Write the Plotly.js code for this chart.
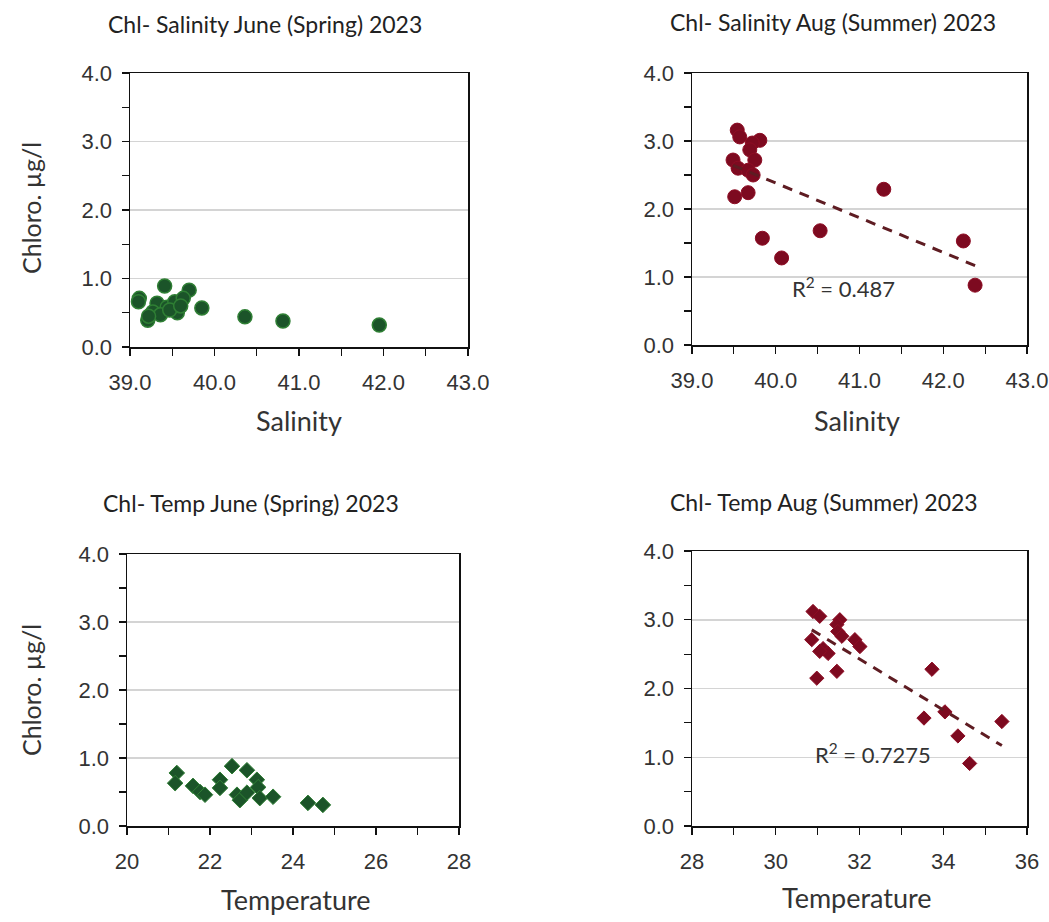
<!DOCTYPE html>
<html>
<head>
<meta charset="utf-8">
<script src="https://cdn.plot.ly/plotly-3.0.1.min.js"></script>
<style>
html,body{margin:0;padding:0;background:#fff;}
#chart{width:1049px;height:922px;}
</style>
</head>
<body>
<div id="chart"></div>
<script>
// ---- Data ----
const salJune = [39.11, 39.10, 39.41, 39.70, 39.85, 40.36, 40.81, 41.95, 39.21, 39.32, 39.27, 39.44, 39.56, 39.53, 39.63, 39.36, 39.47, 39.22, 39.60];
const chlSalJune = [0.71, 0.66, 0.89, 0.83, 0.57, 0.44, 0.38, 0.32, 0.39, 0.64, 0.51, 0.58, 0.50, 0.66, 0.71, 0.47, 0.54, 0.45, 0.60];

const salAug = [39.54, 39.57, 39.81, 39.72, 39.69, 39.49, 39.75, 39.55, 39.67, 39.73, 39.51, 39.67, 39.84, 40.07, 40.53, 41.29, 42.24, 42.38];
const chlSalAug = [3.16, 3.06, 3.01, 2.97, 2.87, 2.72, 2.72, 2.60, 2.57, 2.50, 2.18, 2.24, 1.57, 1.28, 1.68, 2.29, 1.53, 0.88];

const tempJune = [21.20, 21.16, 21.59, 21.76, 21.88, 22.24, 22.24, 22.53, 22.89, 23.13, 23.16, 22.65, 22.72, 22.89, 23.20, 23.52, 24.36, 24.72];
const chlTempJune = [0.78, 0.63, 0.59, 0.50, 0.46, 0.68, 0.56, 0.88, 0.82, 0.68, 0.57, 0.46, 0.38, 0.49, 0.41, 0.43, 0.34, 0.31];

const tempAug = [30.89, 31.05, 30.86, 31.13, 31.25, 31.05, 31.53, 31.46, 31.48, 31.58, 31.89, 32.01, 30.98, 31.46, 33.73, 33.54, 34.04, 34.35, 35.40, 34.63];
const chlTempAug = [3.12, 3.05, 2.71, 2.58, 2.51, 2.54, 3.00, 2.93, 2.83, 2.76, 2.71, 2.61, 2.15, 2.25, 2.28, 1.57, 1.66, 1.31, 1.52, 0.91];

const titles = ["Chl- Salinity June (Spring) 2023", "Chl- Salinity Aug (Summer) 2023", "Chl- Temp June (Spring) 2023", "Chl- Temp Aug (Summer) 2023"];
const xTitles = ["Salinity", "Salinity", "Temperature", "Temperature"];
const yTitle = "Chloro. µg/l";
const r2Labels = ["R<sup>2</sup> = 0.487", "R<sup>2</sup> = 0.7275"];

// ---- helpers ----
function linfit(x, y) {
  const n = x.length;
  let sx = 0, sy = 0, sxx = 0, sxy = 0;
  for (let i = 0; i < n; i++) { sx += x[i]; sy += y[i]; sxx += x[i]*x[i]; sxy += x[i]*y[i]; }
  const b = (n*sxy - sx*sy) / (n*sxx - sx*sx);
  const a = (sy - b*sx) / n;
  const xmin = Math.min(...x), xmax = Math.max(...x);
  return {x: [xmin, xmax], y: [a + b*xmin, a + b*xmax]};
}

const W = 1049, H = 922;
const px = v => v / W;
const py = v => 1 - v / H;

const green = '#1b5429', greenEdge = '#2f7f34';
const red = '#7d0a20', redEdge = '#8e0d24';
const trendColor = '#5e1c22';

const fit1 = linfit(salAug, chlSalAug);
const fit2 = linfit(tempAug, chlTempAug);

const data = [
  {x: salJune, y: chlSalJune, type: 'scatter', mode: 'markers', xaxis: 'x', yaxis: 'y',
   marker: {symbol: 'circle', size: 14, color: green, line: {color: greenEdge, width: 1.5}}},
  {x: salAug, y: chlSalAug, type: 'scatter', mode: 'markers', xaxis: 'x2', yaxis: 'y2',
   marker: {symbol: 'circle', size: 14, color: red, line: {color: redEdge, width: 1}}},
  {x: fit1.x, y: fit1.y, type: 'scatter', mode: 'lines', xaxis: 'x2', yaxis: 'y2',
   line: {color: trendColor, width: 3, dash: '10px,8px'}},
  {x: tempJune, y: chlTempJune, type: 'scatter', mode: 'markers', xaxis: 'x3', yaxis: 'y3',
   marker: {symbol: 'diamond', size: 12, color: green, line: {color: greenEdge, width: 1}}},
  {x: tempAug, y: chlTempAug, type: 'scatter', mode: 'markers', xaxis: 'x4', yaxis: 'y4',
   marker: {symbol: 'diamond', size: 11, color: red, line: {color: redEdge, width: 1}}},
  {x: fit2.x, y: fit2.y, type: 'scatter', mode: 'lines', xaxis: 'x4', yaxis: 'y4',
   line: {color: trendColor, width: 3, dash: '10px,8px'}}
];

const tickFont = {family: 'Liberation Sans, Arial, sans-serif', size: 22, color: '#333'};

function xax(domain, range, dtick, minorDtick, fmt, anchor) {
  return {
    domain: domain, range: range, dtick: dtick, tick0: range[0], tickformat: fmt,
    showline: true, linecolor: '#111', linewidth: 1.5, mirror: true,
    ticks: 'outside', ticklen: 7, tickwidth: 1.2, tickcolor: '#111',
    minor: {dtick: minorDtick, ticks: 'outside', ticklen: 7, tickwidth: 1.2, tickcolor: '#111', showgrid: false},
    showgrid: false, zeroline: false, tickfont: tickFont, ticklabelstandoff: 8, anchor: anchor, fixedrange: true
  };
}
function yax(domain, anchor) {
  return {
    domain: domain, range: [0, 4], dtick: 1, tick0: 0, tickformat: '.1f',
    showline: true, linecolor: '#111', linewidth: 1.5, mirror: true,
    ticks: 'outside', ticklen: 7, tickwidth: 1.2, tickcolor: '#111',
    minor: {dtick: 0.5, ticks: 'outside', ticklen: 7, tickwidth: 1.2, tickcolor: '#111', showgrid: false},
    showgrid: true, gridcolor: '#d4d4d4', gridwidth: 1.5, zeroline: false,
    tickfont: tickFont, ticklabelstandoff: 5, anchor: anchor, fixedrange: true
  };
}

const titleFont = {family: 'Lato, Open Sans, sans-serif', size: 23, color: '#222'};
const xTitleFont = {family: 'Lato, Open Sans, sans-serif', size: 27, color: '#333'};
const yTitleFont = {family: 'Lato, Open Sans, sans-serif', size: 25, color: '#333'};

const annotations = [
  {text: titles[0], x: px(265), y: py(24)},
  {text: titles[1], x: px(833), y: py(22)},
  {text: titles[2], x: px(251), y: py(503)},
  {text: titles[3], x: px(824), y: py(502)}
].map(a => Object.assign(a, {xref: 'paper', yref: 'paper', showarrow: false, font: titleFont, xanchor: 'center', yanchor: 'middle'}));

[
  {text: xTitles[0], x: px(299), y: py(420)},
  {text: xTitles[1], x: px(857), y: py(420)},
  {text: xTitles[2], x: px(296), y: py(899)},
  {text: xTitles[3], x: px(857), y: py(897)}
].forEach(a => annotations.push(Object.assign(a, {xref: 'paper', yref: 'paper', showarrow: false, font: xTitleFont, xanchor: 'center', yanchor: 'middle'})));

[
  {text: yTitle, x: px(31), y: py(208)},
  {text: yTitle, x: px(31), y: py(690)}
].forEach(a => annotations.push(Object.assign(a, {xref: 'paper', yref: 'paper', showarrow: false, font: yTitleFont, textangle: -90, xanchor: 'center', yanchor: 'middle'})));

annotations.push({text: r2Labels[0], xref: 'paper', yref: 'paper', x: px(843), y: py(287), showarrow: false,
  font: {family: 'Lato, Open Sans, sans-serif', size: 22, color: '#333'}, xanchor: 'center', yanchor: 'middle'});
annotations.push({text: r2Labels[1], xref: 'paper', yref: 'paper', x: px(873), y: py(753), showarrow: false,
  font: {family: 'Lato, Open Sans, sans-serif', size: 22, color: '#333'}, xanchor: 'center', yanchor: 'middle'});

const layout = {
  width: W, height: H,
  margin: {l: 0, r: 0, t: 0, b: 0},
  paper_bgcolor: '#fff', plot_bgcolor: '#fff',
  showlegend: false,
  xaxis: xax([px(130), px(468)], [39, 43], 1, 0.5, '.1f', 'y'),
  yaxis: yax([py(347), py(73)], 'x'),
  xaxis2: xax([px(692), px(1027)], [39, 43], 1, 0.5, '.1f', 'y2'),
  yaxis2: yax([py(345), py(73)], 'x2'),
  xaxis3: xax([px(127), px(459)], [20, 28], 2, 1, 'd', 'y3'),
  yaxis3: yax([py(826), py(554)], 'x3'),
  xaxis4: xax([px(692), px(1027)], [28, 36], 2, 1, 'd', 'y4'),
  yaxis4: yax([py(826), py(551)], 'x4'),
  annotations: annotations
};

Plotly.newPlot('chart', data, layout, {displayModeBar: false, staticPlot: true});
</script>
</body>
</html>
